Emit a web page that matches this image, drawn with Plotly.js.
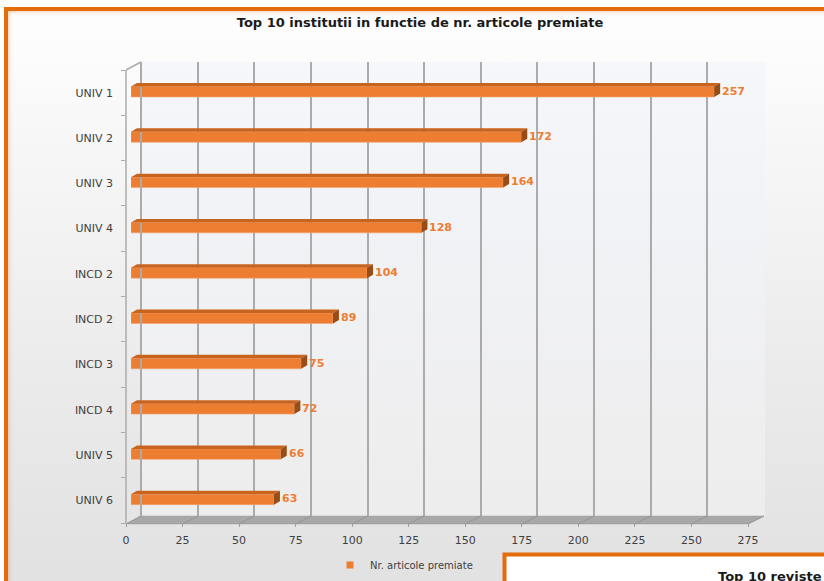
<!DOCTYPE html>
<html>
<head>
<meta charset="utf-8">
<script src="https://cdn.plot.ly/plotly-3.0.1.min.js"></script>
<style>
  html, body { margin:0; padding:0; background:#ffffff; overflow:hidden; }
  #wrap { position:relative; width:824px; height:581px; overflow:hidden; background:#ffffff; }
  #frame { position:absolute; left:4px; top:7px; width:900px; height:700px; box-sizing:border-box;
           border:4px solid #E46C0A; box-shadow: inset 0 0 5px rgba(228,108,10,0.45);
           background: linear-gradient(to bottom, #fefefe 0px, #f6f6f6 150px, #eaeaea 380px, #e2e2e2 560px); }
  #wall { position:absolute; left:141px; top:62px; width:624px; height:454px;
          background: linear-gradient(to bottom, #f5f7fa 0%, #f1f2f5 40%, #ededed 100%); }
  #chart { position:absolute; left:0; top:0; width:824px; height:581px; }
</style>
</head>
<body>
<div id="wrap">
  <div id="frame"></div>
  <div id="wall"></div>
  <div id="chart"></div>
</div>
<script>
// ---- data ----
const categories = ["UNIV 1","UNIV 2","UNIV 3","UNIV 4","INCD 2","INCD 2","INCD 3","INCD 4","UNIV 5","UNIV 6"];
const values = [257, 172, 164, 128, 104, 89, 75, 72, 66, 63];
const seriesName = "Nr. articole premiate";
const chartTitle = "Top 10 institutii in functie de nr. articole premiate";
const secondTitle = "Top 10 reviste";
const xTickStep = 25;
const xMax = 275;

// ---- geometry helpers (pixels -> paper) ----
const W = 824, H = 581;
const px = x => x / W;
const py = y => 1 - y / H;

const FRONT = {x0:126, x1:748};   // label axis
const BACK  = {x0:141, x1:764};   // back wall grid
const MID   = {x0:131, x1:755};   // bars
const yTopPx = 70, yBotPx = 523;  // category band (front)
const wallTop = 62, wallBot = 516;

const idx = categories.map((c, i) => i);
const tickVals = [];
for (let t = 0; t <= xMax; t += xTickStep) tickVals.push(t);

const orange = '#ED7D31';
const topFace = '#C9641F';
const sideFace = '#9A4C16';
const gridCol = '#ABABAB';
const textCol = '#404040';
const font = 'DejaVu Sans, Verdana, sans-serif';

// bar geometry in data units
const barWidth = 0.23, barOffset = -0.135;
const unitsPerPxX = xMax / (MID.x1 - MID.x0);
const unitsPerPxY = categories.length / (yBotPx - yTopPx);
const dxU = 6 * unitsPerPxX, dyU = 3.5 * unitsPerPxY;

const traces = [
  { type:'bar', orientation:'h', x: values, y: idx, xaxis:'x3', yaxis:'y',
    width: barWidth, offset: barOffset,
    marker:{ color: orange, line:{ color:'#F3A36E', width:0.6 } },
    showlegend:false, hoverinfo:'x' },
  { type:'scatter', mode:'markers', x:[null], y:[null], xaxis:'x', yaxis:'y',
    name: seriesName, marker:{ symbol:'square', size:7, color: orange }, showlegend:true },
  { type:'scatter', mode:'markers', x:[], y:[], xaxis:'x2', yaxis:'y2', showlegend:false, hoverinfo:'skip' }
];

const shapes = [];
// floor
shapes.push({ type:'path', xref:'paper', yref:'paper', layer:'below',
  path:`M ${px(FRONT.x0)},${py(yBotPx+1)} L ${px(FRONT.x1)},${py(yBotPx+1)} L ${px(BACK.x1)},${py(wallBot)} L ${px(BACK.x0)},${py(wallBot)} Z`,
  fillcolor:'#A8A8A8', line:{ color:'#A0A0A0', width:0.5 } });
// floor diagonals at ticks
tickVals.forEach(t => {
  const f = t / xMax;
  shapes.push({ type:'line', xref:'paper', yref:'paper',
    x0: px(FRONT.x0 + f*(FRONT.x1-FRONT.x0)), y0: py(yBotPx+1),
    x1: px(BACK.x0 + f*(BACK.x1-BACK.x0)), y1: py(wallBot),
    line:{ color:'#959595', width:1 } });
});
// left wall edges
shapes.push({ type:'line', xref:'paper', yref:'paper',
  x0:px(FRONT.x0), y0:py(yTopPx), x1:px(BACK.x0), y1:py(wallTop), line:{ color:gridCol, width:1.5 } });
shapes.push({ type:'line', xref:'paper', yref:'paper',
  x0:px(FRONT.x0), y0:py(yTopPx), x1:px(FRONT.x0), y1:py(yBotPx+1), line:{ color:gridCol, width:1.5 } });
shapes.push({ type:'line', xref:'paper', yref:'paper',
  x0:px(BACK.x0), y0:py(wallTop), x1:px(BACK.x0), y1:py(wallBot), line:{ color:gridCol, width:2 } });

// 3D faces of bars
values.forEach((v, i) => {
  const yT = i + barOffset, yB = i + barOffset + barWidth;
  shapes.push({ type:'path', xref:'x3', yref:'y',
    path:`M 0,${yT} L ${dxU},${yT-dyU} L ${v+dxU},${yT-dyU} L ${v},${yT} Z`,
    fillcolor: topFace, line:{ width:0 } });
  shapes.push({ type:'path', xref:'x3', yref:'y',
    path:`M ${v},${yT} L ${v+dxU},${yT-dyU} L ${v+dxU},${yB-dyU} L ${v},${yB} Z`,
    fillcolor: sideFace, line:{ width:0 } });
});

// second chart box (partially visible)
shapes.push({ type:'rect', xref:'paper', yref:'paper',
  x0:px(504.5), x1:px(1000), y0:py(554.5), y1:py(800),
  fillcolor:'#ffffff', line:{ color:'#E46C0A', width:4 } });

const annotations = values.map((v, i) => ({
  xref:'x3', yref:'y', x: v, y: i - 0.03, text: String(v), showarrow:false,
  xanchor:'left', yanchor:'middle', xshift: 6,
  font:{ family: font, size: 11, color: orange, weight: 'bold' }
}));
annotations.push({ xref:'paper', yref:'paper', x:px(716), y:py(567), xanchor:'left', yanchor:'top',
  text: secondTitle, showarrow:false, font:{ family: font, size: 13, color:'#1a1a1a', weight:'bold' } });

const layout = {
  width: W, height: H,
  margin:{ l:0, r:0, t:0, b:0, pad:0 },
  paper_bgcolor:'rgba(0,0,0,0)', plot_bgcolor:'rgba(0,0,0,0)',
  font:{ family: font, color: textCol },
  title:{ text: chartTitle, x: px(420), xanchor:'center', y: py(22), yanchor:'middle',
          xref:'paper', yref:'paper',
          font:{ family: font, size: 13, color:'#1a1a1a', weight:'bold' } },
  showlegend:true,
  legend:{ orientation:'h', x: px(330), xanchor:'left', y: py(565), yanchor:'middle',
           font:{ family: font, size: 10, color: textCol }, bgcolor:'rgba(0,0,0,0)' },
  xaxis:{ domain:[px(FRONT.x0), px(FRONT.x1)], range:[0, xMax], anchor:'y',
          tickmode:'array', tickvals: tickVals, ticktext: tickVals.map(String),
          showgrid:false, zeroline:false, showline:true, linecolor:'#A0A0A0', linewidth:1,
          ticks:'outside', ticklen:3, tickcolor:'#A0A0A0', ticklabelstandoff:4,
          tickfont:{ family: font, size: 11, color: textCol }, fixedrange:true },
  yaxis:{ domain:[py(yBotPx), py(yTopPx)], range:[categories.length-0.5, -0.5], anchor:'x',
          tickmode:'array', tickvals: idx, ticktext: categories,
          showgrid:false, zeroline:false, showline:false,
          ticks:'', ticklabelstandoff:12,
          minor:{ tickmode:'array', tickvals: idx.concat([categories.length]).map(i => i - 0.5),
                  ticks:'outside', ticklen:4, tickcolor:gridCol, showgrid:false },
          tickfont:{ family: font, size: 11, color: textCol }, fixedrange:true },
  xaxis2:{ domain:[px(BACK.x0), px(BACK.x1)], range:[0, xMax], anchor:'y2',
           tickmode:'array', tickvals: tickVals, showticklabels:false, ticks:'',
           showgrid:true, gridcolor:gridCol, gridwidth:2,
           zeroline:false, showline:false, fixedrange:true },
  yaxis2:{ domain:[py(wallBot), py(wallTop)], range:[0,1], anchor:'x2',
           visible:false, showgrid:false, zeroline:false, fixedrange:true },
  xaxis3:{ domain:[px(MID.x0), px(MID.x1)], range:[0, xMax], anchor:'y',
           visible:false, showgrid:false, zeroline:false, fixedrange:true },
  shapes: shapes,
  annotations: annotations
};

Plotly.newPlot('chart', traces, layout, { displayModeBar:false, staticPlot:true });
</script>
</body>
</html>
